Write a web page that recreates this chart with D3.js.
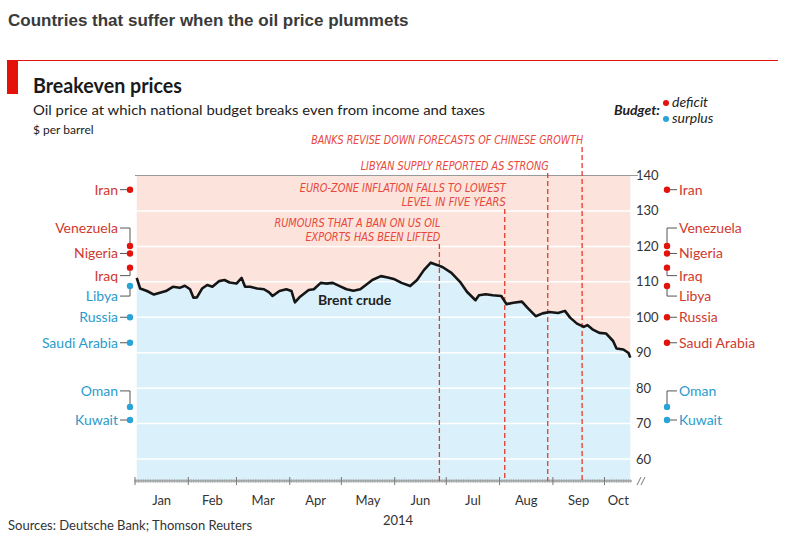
<!DOCTYPE html>
<html><head><meta charset="utf-8">
<script src="https://cdn.jsdelivr.net/npm/d3@7"></script>
<style>
body{margin:0;background:#fff;}
svg{display:block;font-family:Lato,"Open Sans",sans-serif;}
</style></head><body>
<svg id="c" width="800" height="534"></svg>
<script>
// ---- data ----
const brentDates = ["2014-01-02","2014-01-04","2014-01-08","2014-01-12","2014-01-16","2014-01-19","2014-01-23","2014-01-27","2014-01-30",
 "2014-02-02","2014-02-04","2014-02-06","2014-02-09","2014-02-12","2014-02-15","2014-02-19","2014-02-22","2014-02-25",
 "2014-03-01","2014-03-04","2014-03-06","2014-03-09","2014-03-13","2014-03-17","2014-03-20","2014-03-22","2014-03-26","2014-03-30",
 "2014-04-02","2014-04-04","2014-04-07","2014-04-12","2014-04-15","2014-04-19","2014-04-22","2014-04-26","2014-04-30",
 "2014-05-04","2014-05-08","2014-05-12","2014-05-16","2014-05-19","2014-05-24","2014-05-28",
 "2014-06-01","2014-06-05","2014-06-10","2014-06-14","2014-06-18","2014-06-22","2014-06-26","2014-06-29",
 "2014-07-04","2014-07-09","2014-07-13","2014-07-18","2014-07-20","2014-07-24","2014-07-28",
 "2014-08-02","2014-08-05","2014-08-09","2014-08-14","2014-08-17","2014-08-22","2014-08-26","2014-08-30",
 "2014-09-04","2014-09-08","2014-09-11","2014-09-15","2014-09-19","2014-09-21","2014-09-24","2014-09-28",
 "2014-10-02","2014-10-06","2014-10-08","2014-10-12","2014-10-15","2014-10-16"];
const brentValues = [111.1,108.1,107.4,106.4,107.0,107.4,108.6,108.3,108.9,
 107.9,105.5,105.6,108.1,109.1,108.6,110.2,110.5,109.8,
 109.5,111.1,108.6,108.6,108.1,107.9,107.0,106.0,107.4,107.9,
 107.4,104.2,105.8,107.7,107.9,109.7,109.5,109.7,108.8,
 107.9,107.5,107.9,109.4,110.5,111.6,111.2,
 110.7,109.7,108.8,110.5,113.3,115.4,114.7,114.1,
 112.5,110.0,107.2,104.8,106.2,106.5,106.2,
 106.0,103.7,104.1,104.4,102.8,100.3,101.1,101.5,
 101.2,101.8,99.9,98.2,97.3,97.8,96.6,95.6,
 95.4,93.3,91.2,90.9,89.9,88.6];
const countries = ["Iran","Venezuela","Nigeria","Iraq","Libya","Russia","Saudi Arabia","Oman","Kuwait"];
const breakevens = [136,120.1,118,114,108.8,100,92.8,74.7,71];
const yTicks = [60,70,80,90,100,110,120,130,140];
const monthLabels = ["Jan","Feb","Mar","Apr","May","Jun","Jul","Aug","Sep","Oct"];
const eventDates = ["2014-06-27","2014-08-04","2014-08-29","2014-09-18"];
const eventTexts = [["RUMOURS THAT A BAN ON US OIL","EXPORTS HAS BEEN LIFTED"],
  ["EURO-ZONE INFLATION FALLS TO LOWEST","LEVEL IN FIVE YEARS"],
  ["LIBYAN SUPPLY REPORTED AS STRONG"],
  ["BANKS REVISE DOWN FORECASTS OF CHINESE GROWTH"]];

// ---- layout ----
const labelShift = [0,-18,0,8,10,0,0,-16,0];     // px offset of label from its dot
const eventTextY = [241,206,170,144];             // baseline of last annotation line
const eventTextW = [[166,135],[206,104],[188],[272]];
const RED="#e3120b", BLUE="#2aa3d6", REDT="#cf3a2e", BLUET="#2a9bcc";
const PINK="#fce4dc", LBLUE="#daf0fa", ANN="#e8473b";

const svg = d3.select("#c");
const parse = d3.timeParse("%Y-%m-%d");
const data = brentDates.map((d,i)=>({date:parse(d), v:brentValues[i]}));
const start = parse("2014-01-01"), end = parse("2014-10-17");
const x = d3.scaleTime().domain([start,end]).range([135,632]);
const y = d3.scaleLinear().domain([60,140]).range([459,175.5]);
const yBottom = 481;

// titles
svg.append("text").attr("x",8).attr("y",26).attr("font-family","'Liberation Sans',Arial,sans-serif")
  .attr("font-weight","bold").attr("font-size",17).attr("fill","#3a3a3a")
  .text("Countries that suffer when the oil price plummets");
svg.append("line").attr("x1",7).attr("x2",778).attr("y1",60.5).attr("y2",60.5).attr("stroke",RED).attr("stroke-width",1);
svg.append("rect").attr("x",7).attr("y",60).attr("width",11).attr("height",34).attr("fill",RED);
svg.append("text").attr("x",33).attr("y",93).attr("font-weight","bold").attr("font-size",20).attr("fill","#1a1a1a")
  .attr("textLength",149).attr("lengthAdjust","spacingAndGlyphs").text("Breakeven prices");
svg.append("text").attr("x",33).attr("y",115).attr("font-size",14).attr("fill","#222")
  .attr("textLength",452).attr("lengthAdjust","spacingAndGlyphs")
  .text("Oil price at which national budget breaks even from income and taxes");
svg.append("text").attr("x",33).attr("y",134).attr("font-size",12).attr("fill","#222").text("$ per barrel");

// legend
svg.append("text").attr("x",660).attr("y",115).attr("text-anchor","end").attr("font-weight","bold")
  .attr("font-style","italic").attr("font-size",14).attr("fill","#222").text("Budget:");
[["deficit",RED,103],["surplus",BLUE,119]].forEach(([t,c,yy])=>{
  svg.append("circle").attr("cx",666).attr("cy",yy).attr("r",3).attr("fill",c);
  svg.append("text").attr("x",672).attr("y",yy).attr("dy","0.32em").attr("font-style","italic")
    .attr("font-size",14).attr("fill","#222").text(t);
});

// areas
svg.append("path").datum(data).attr("fill",PINK)
  .attr("d",d3.area().x(d=>x(d.date)).y0(y(140)).y1(d=>y(d.v)));
svg.append("path").datum(data).attr("fill",LBLUE)
  .attr("d",d3.area().x(d=>x(d.date)).y0(yBottom).y1(d=>y(d.v)));
// gridlines
svg.append("g").selectAll("line").data(yTicks.filter(t=>t<140)).join("line")
  .attr("x1",x(start)).attr("x2",x(end)).attr("y1",d=>y(d)).attr("y2",d=>y(d))
  .attr("stroke","#fff").attr("stroke-width",1.5);
svg.append("line").attr("x1",x(start)).attr("x2",x(end)+6).attr("y1",y(140)).attr("y2",y(140))
  .attr("stroke","#9a9a9a").attr("stroke-width",1.2);

// y tick labels
svg.append("g").selectAll("text").data(yTicks).join("text")
  .attr("x",636).attr("y",d=>y(d)).attr("dy","0.35em").attr("font-size",13).attr("fill","#333").text(d=>d);

// x axis
const axisG = svg.append("g");
axisG.append("line").attr("x1",x(start)).attr("x2",x(end)).attr("y1",yBottom).attr("y2",yBottom)
  .attr("stroke","#777").attr("stroke-width",1);
axisG.selectAll("line.d").data(d3.timeDay.range(start,end)).join("line").attr("class","d")
  .attr("x1",d=>x(d)).attr("x2",d=>x(d)).attr("y1",yBottom-2).attr("y2",yBottom+2)
  .attr("stroke","#999").attr("stroke-width",0.6);
const months = d3.timeMonth.range(start,end);
axisG.selectAll("line.m").data(months).join("line").attr("class","m")
  .attr("x1",d=>x(d)).attr("x2",d=>x(d)).attr("y1",yBottom-4).attr("y2",yBottom+4)
  .attr("stroke","#777").attr("stroke-width",1);
axisG.selectAll("text").data(months).join("text")
  .attr("x",(d,i)=>{const n=d3.timeMonth.offset(d,1);return (x(d)+x(n<end?n:end))/2;})
  .attr("y",505).attr("text-anchor","middle").attr("font-size",13).attr("fill","#333")
  .text((d,i)=>monthLabels[i]);
// break symbol
[0,4].forEach(o=>svg.append("line").attr("x1",637+o).attr("x2",641+o).attr("y1",yBottom+4).attr("y2",yBottom-4)
  .attr("stroke","#777").attr("stroke-width",1));
svg.append("text").attr("x",398).attr("y",525).attr("text-anchor","middle").attr("font-size",13).attr("fill","#333").text("2014");
svg.append("text").attr("x",8).attr("y",530).attr("font-size",13).attr("fill","#333")
  .text("Sources: Deutsche Bank; Thomson Reuters");

// event dashed lines + annotations
eventDates.forEach((ds,i)=>{
  const xx = x(parse(ds));
  const lines = eventTexts[i];
  lines.forEach((t,j)=>{
    svg.append("text").attr("x",xx+1).attr("y",eventTextY[i]-(lines.length-1-j)*14.5)
      .attr("text-anchor","end").attr("font-family","'Liberation Sans Narrow','DejaVu Sans Condensed',sans-serif")
      .attr("font-style","italic").attr("font-size",11.5).attr("fill",ANN)
      .attr("textLength",eventTextW[i][j]).attr("lengthAdjust","spacingAndGlyphs").text(t);
  });
  svg.append("line").attr("x1",xx).attr("x2",xx).attr("y1",eventTextY[i]+3).attr("y2",yBottom)
    .attr("stroke","#e5392e").attr("stroke-width",1.3).attr("stroke-dasharray","5,3");
});

// brent line
svg.append("path").datum(data).attr("fill","none").attr("stroke","#151515").attr("stroke-width",2.6)
  .attr("stroke-linejoin","round").attr("d",d3.line().x(d=>x(d.date)).y(d=>y(d.v)));
svg.append("text").attr("x",318).attr("y",305).attr("font-weight","bold").attr("font-size",14).attr("fill","#222").text("Brent crude");

// country labels
const first = brentValues[0], last = brentValues[brentValues.length-1];
countries.forEach((c,i)=>{
  const dy = y(breakevens[i]), ly = dy + labelShift[i];
  // left
  const lc = breakevens[i] > first;
  svg.append("path").attr("d",`M120,${ly}H130V${dy}`).attr("fill","none").attr("stroke","#555").attr("stroke-width",1);
  svg.append("circle").attr("cx",130).attr("cy",dy).attr("r",3.2).attr("fill",lc?RED:BLUE);
  svg.append("text").attr("x",118).attr("y",ly).attr("dy","0.35em").attr("text-anchor","end")
    .attr("font-size",14).attr("fill",lc?REDT:BLUET).text(c);
  // right
  const rc = breakevens[i] > last;
  svg.append("path").attr("d",`M667,${dy}V${ly}H677`).attr("fill","none").attr("stroke","#555").attr("stroke-width",1);
  svg.append("circle").attr("cx",667).attr("cy",dy).attr("r",3.2).attr("fill",rc?RED:BLUE);
  svg.append("text").attr("x",679).attr("y",ly).attr("dy","0.35em")
    .attr("font-size",14).attr("fill",rc?REDT:BLUET).text(c);
});
</script>
</body></html>
